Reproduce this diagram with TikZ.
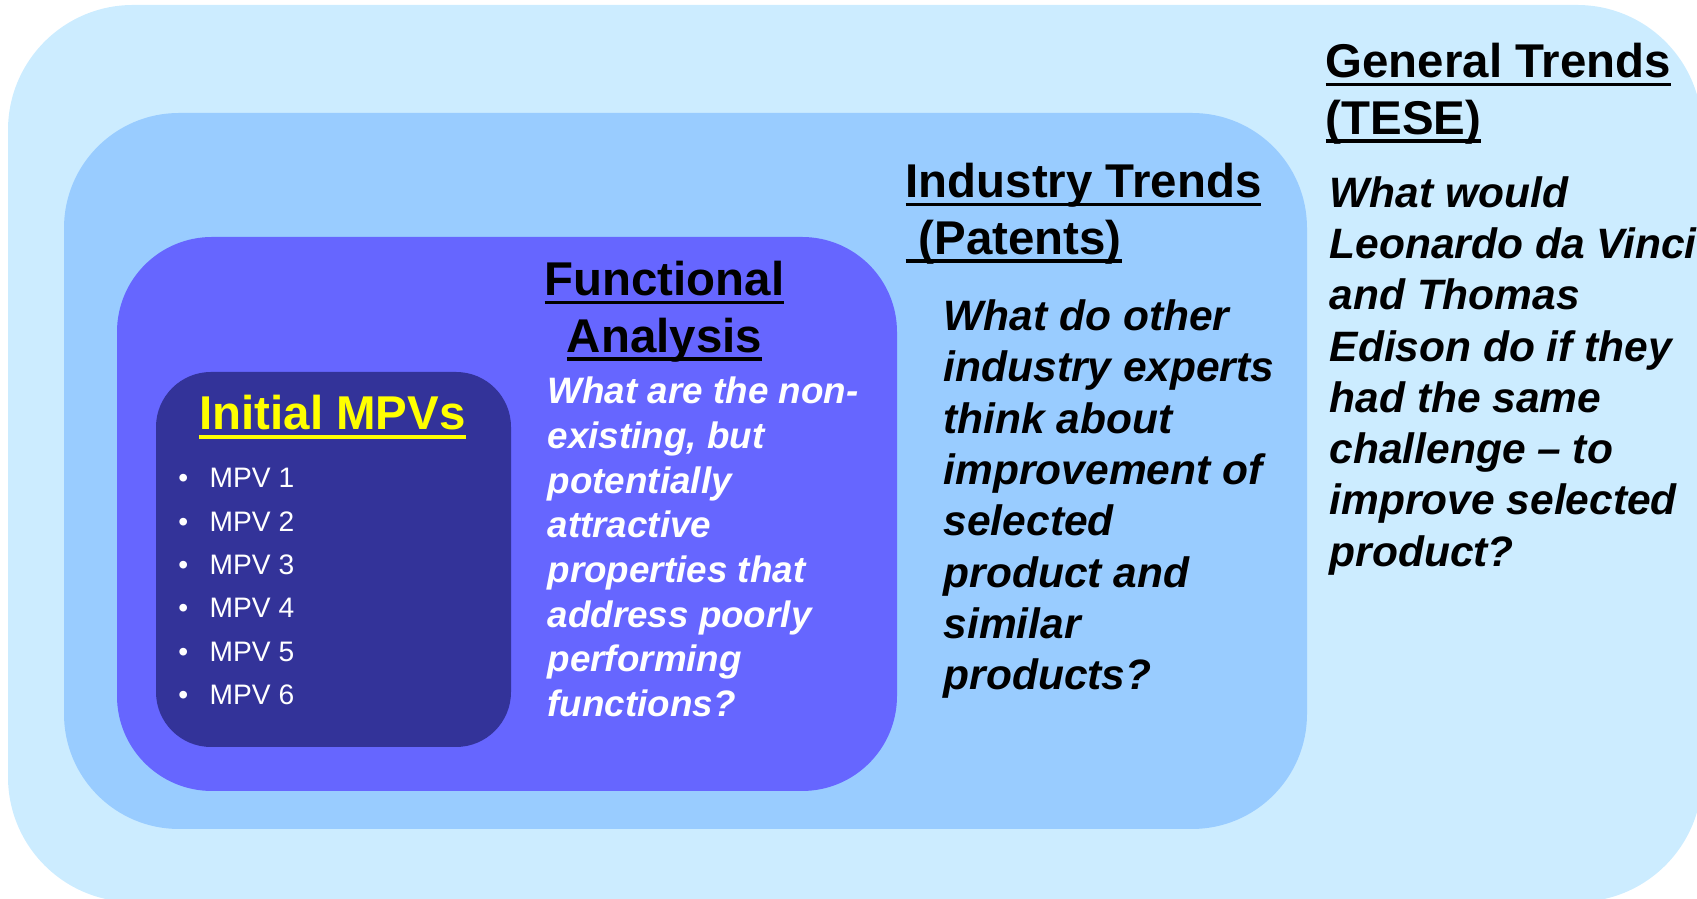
\documentclass[tikz,border=0pt]{standalone}
\usepackage{fontspec}
\setmainfont{Liberation Sans}
\usepackage{tikz}

\definecolor{outerblue}{HTML}{CCECFF}
\definecolor{midblue}{HTML}{99CCFF}
\definecolor{funcblue}{HTML}{6666FF}
\definecolor{mpvblue}{HTML}{333399}
\definecolor{mpvyellow}{HTML}{FFFF00}

%% underline that runs through the descenders
\newsavebox\ulbox
\newcommand{\ulbar}[1]{\sbox\ulbox{#1}\rlap{\rule[-0.18em]{\wd\ulbox}{0.075em}}\usebox\ulbox}

\tikzset{
  heading/.style={inner sep=0pt, anchor=north west, align=left,
    font=\fontsize{13.49pt}{16.08pt}\selectfont\bfseries},
  question/.style={inner sep=0pt, anchor=north west, align=left,
    font=\fontsize{12.09pt}{14.60pt}\selectfont\bfseries\itshape},
  smallquestion/.style={inner sep=0pt, anchor=north west, align=left, text=white,
    font=\fontsize{10.47pt}{12.72pt}\selectfont\bfseries\itshape},
  mpvitem/.style={inner sep=0pt, anchor=base west, text=white,
    font=\fontsize{8.02pt}{12pt}\selectfont},
}

\begin{document}
\begin{tikzpicture}[x=1cm,y=-1cm]

\useasboundingbox (0,0) rectangle (16.97,8.99);
\clip (0,0) rectangle (16.97,8.99);

%% nested panels
\fill[outerblue, rounded corners=1.25cm] (0.08,0.05) rectangle (17.02,9.02);   %% general
\fill[midblue,   rounded corners=1.15cm] (0.64,1.13) rectangle (13.07,8.29);   %% industry
\fill[funcblue,  rounded corners=0.95cm] (1.17,2.37) rectangle (8.97,7.91);    %% functional
\fill[mpvblue,   rounded corners=0.55cm] (1.56,3.72) rectangle (5.11,7.47);    %% mpvs

%% initial MPVs
\node[inner sep=0pt, anchor=base, text=mpvyellow,
  font=\fontsize{13.5pt}{16pt}\selectfont\bfseries] (mpvtitle) at (3.325,4.30) {\ulbar{Initial MPVs}};
\foreach \i in {1,...,6}
  \node[mpvitem] (mpv\i) at (1.776,{4.88+0.433*(\i-1)}) {\makebox[0.314cm][l]{\textbullet}MPV \i};

%% functional analysis
\node[heading, anchor=north, align=center] (functitle) at (6.645,2.555)
  {\strut\ulbar{Functional}\\\ulbar{Analysis}};
\node[smallquestion] (funcq) at (5.47,3.717)
  {\strut What are the non-\\existing, but\\potentially\\attractive\\properties that\\address poorly\\performing\\functions?};

%% industry trends
\node[heading] (indtitle) at (9.05,1.575) {\strut\ulbar{Industry Trends}\\\ulbar{\ (Patents)}};
\node[question] (indq) at (9.43,2.94)
  {\strut What do other\\industry experts\\think about\\improvement of\\selected\\product and\\similar\\products?};

%% general trends
\node[heading] (gentitle) at (13.25,0.375) {\strut\ulbar{General Trends}\\\ulbar{(TESE)}};
\node[question] (genq) at (13.29,1.705)
  {\strut What would\\Leonardo da Vinci\\and Thomas\\Edison do if they\\had the same\\challenge – to\\improve selected\\product?};

\end{tikzpicture}
\end{document}
